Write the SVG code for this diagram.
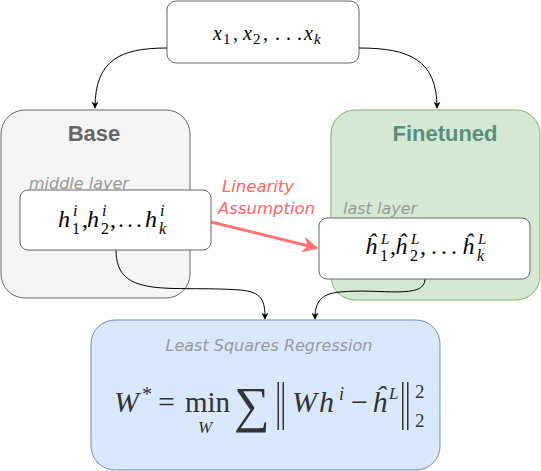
<svg xmlns="http://www.w3.org/2000/svg" width="541" height="471" viewBox="0 0 541 471">
<style>
.m{font-family:"Liberation Serif","DejaVu Serif",serif;font-style:italic}
.n{font-family:"Liberation Serif","DejaVu Serif",serif;font-style:normal}
.lbl{font-family:"DejaVu Sans","Liberation Sans",sans-serif;font-style:italic;font-size:16px;fill:#999}
.ttl{font-family:"Liberation Sans",Arial,sans-serif;font-weight:bold;font-size:22px}
.conn{fill:none;stroke:#000;stroke-width:1}
</style>
<defs>
<marker id="ah" viewBox="0 0 10 10" refX="9" refY="5" markerWidth="7" markerHeight="7" orient="auto" markerUnits="userSpaceOnUse">
<path d="M0,0 L10,5 L0,10 L3,5 Z" fill="#000"/>
</marker>
<marker id="rah" viewBox="0 0 10 10" refX="9" refY="5" markerWidth="16" markerHeight="16" orient="auto" markerUnits="userSpaceOnUse">
<path d="M0,0 L10,5 L0,10 L3,5 Z" fill="#ff7373"/>
</marker>
</defs>
<rect width="541" height="471" fill="#fff"/>
<g id="base">
<rect x="1" y="110" width="189" height="188" rx="24" fill="#f5f5f5" stroke="#666"/>
<text x="94" y="141" text-anchor="middle" class="ttl" fill="#666">Base</text>
<text x="29" y="189" class="lbl">middle layer</text>
</g>
<g id="finetuned">
<rect x="331" y="110" width="209" height="190" rx="24" fill="#d5e8d4" stroke="#82b366"/>
<text x="445" y="141" text-anchor="middle" class="ttl" fill="#5a8f7b">Finetuned</text>
<text x="343" y="214" class="lbl">last layer</text>
</g>
<g id="input">
<rect x="167" y="1" width="192" height="62" rx="9" fill="#fff" stroke="#666"/>
<g fill="#000" font-size="20">
<text class="m" x="213" y="40">x</text>
<text class="n" x="223" y="44" font-size="15">1</text>
<text class="n" x="233" y="40">,</text>
<text class="m" x="243" y="40">x</text>
<text class="n" x="253" y="44" font-size="15">2</text>
<text class="n" x="263" y="40">,</text>
<text class="n" x="275" y="40">.</text>
<text class="n" x="286" y="40">.</text>
<text class="n" x="297" y="40">.</text>
<text class="m" x="304" y="40">x</text>
<text class="m" x="314" y="44" font-size="15">k</text>
</g>
</g>
<g id="connectors">
<path class="conn" d="M167,48 C120,48 95,60 95,108" marker-end="url(#ah)"/>
<path class="conn" d="M359,48 C410,48 437,60 437,108" marker-end="url(#ah)"/>
<path class="conn" d="M116,250 C116,300 170,285 240,290 C262,292 265,300 265,319" marker-end="url(#ah)"/>
<path class="conn" d="M425,279 C425,300 380,288 340,292 C318,294 315,305 315,319" marker-end="url(#ah)"/>
<path d="M211,222 L317,248" fill="none" stroke="#ff7373" stroke-width="3" marker-end="url(#rah)"/>
<text font-family="DejaVu Sans,Liberation Sans,sans-serif" font-style="italic" font-size="16.5" fill="#ff6666"><tspan x="222" y="192">Linearity</tspan><tspan x="218" y="214">Assumption</tspan></text>
</g>
<g id="hi">
<rect x="20" y="190" width="191" height="60" rx="8" fill="#fff" stroke="#666"/>
<g fill="#000" font-size="24">
<text class="m" x="58" y="227">h</text>
<text class="m" x="73" y="216" font-size="16">i</text>
<text class="n" x="72" y="234" font-size="16">1</text>
<text class="n" x="82" y="227">,</text>
<text class="m" x="87" y="227">h</text>
<text class="m" x="102" y="216" font-size="16">i</text>
<text class="n" x="101" y="234" font-size="16">2</text>
<text class="n" x="110" y="227">,</text>
<text class="n" x="118" y="227">.</text>
<text class="n" x="127" y="227">.</text>
<text class="n" x="136" y="227">.</text>
<text class="m" x="145" y="227">h</text>
<text class="m" x="160" y="216" font-size="16">i</text>
<text class="m" x="159" y="234" font-size="16">k</text>
</g>
</g>
<g id="hL">
<rect x="319" y="218" width="211" height="61" rx="8" fill="#fff" stroke="#666"/>
<g fill="#000" font-size="24">
<text class="m" x="365" y="254">ĥ</text>
<text class="m" x="381" y="244" font-size="15">L</text>
<text class="n" x="380" y="261" font-size="16">1</text>
<text class="n" x="390" y="254">,</text>
<text class="m" x="395" y="254">ĥ</text>
<text class="m" x="411" y="244" font-size="15">L</text>
<text class="n" x="410" y="261" font-size="16">2</text>
<text class="n" x="420" y="254">,</text>
<text class="n" x="431" y="254">.</text>
<text class="n" x="441" y="254">.</text>
<text class="n" x="451" y="254">.</text>
<text class="m" x="462" y="254">ĥ</text>
<text class="m" x="478" y="244" font-size="15">L</text>
<text class="m" x="477" y="261" font-size="16">k</text>
</g>
</g>
<g id="regression">
<rect x="91" y="320" width="349" height="150" rx="24" fill="#dae8fc" stroke="#6c8ebf"/>
<text x="269" y="351" text-anchor="middle" class="lbl" fill="#888">Least Squares Regression</text>
<g fill="#333">
<text class="m" x="114" y="412" font-size="30">W</text>
<text class="n" x="142" y="401" font-size="20">*</text>
<text class="n" x="158" y="412" font-size="30">=</text>
<text class="n" x="185" y="412" font-size="29">min</text>
<text class="m" x="205" y="433" font-size="17" text-anchor="middle">W</text>
<text class="n" x="234" y="422" font-size="50">∑</text>
<rect x="277.5" y="382" width="1.5" height="48"/>
<rect x="282.5" y="382" width="1.5" height="48"/>
<text class="m" x="292" y="412" font-size="30">W</text>
<text class="m" x="319" y="412" font-size="30">h</text>
<text class="m" x="339" y="400" font-size="18">i</text>
<text class="n" x="351" y="412" font-size="30">−</text>
<text class="m" x="372" y="412" font-size="30">ĥ</text>
<text class="m" x="389" y="399" font-size="17">L</text>
<rect x="402" y="382" width="1.5" height="48"/>
<rect x="407" y="382" width="1.5" height="48"/>
<text class="n" x="415" y="398" font-size="19">2</text>
<text class="n" x="415" y="427" font-size="19">2</text>
</g>
</g>
</svg>
